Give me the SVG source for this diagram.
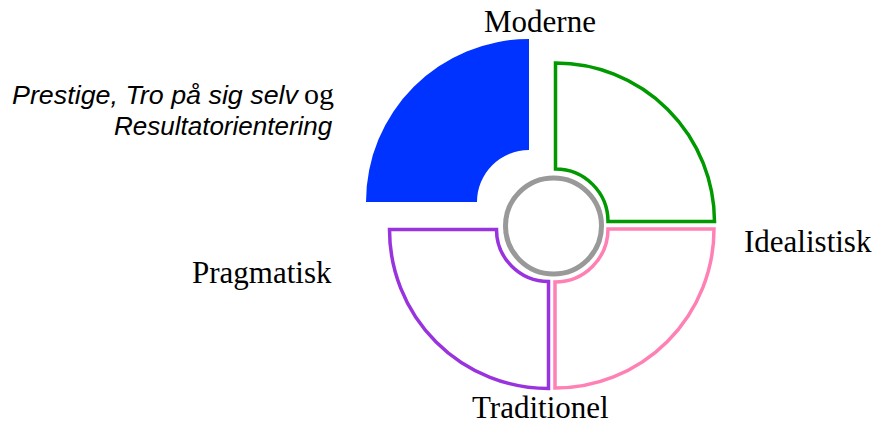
<svg xmlns="http://www.w3.org/2000/svg" width="877" height="425" viewBox="0 0 877 425">
<style>
.lbl{font-family:"Liberation Serif","Times New Roman",serif;font-size:31px;fill:#000}
.it{font-family:"Liberation Sans",Arial,sans-serif;font-size:26px;font-style:italic;fill:#000}
.og{font-family:"Liberation Serif","Times New Roman",serif;font-size:30px;fill:#000}
.seg{fill:#ffffff;stroke-width:3.5;stroke-linejoin:miter}
</style>
<rect width="877" height="425" fill="#ffffff"/>
<g id="moderne">
<path d="M529,39 L529,150 A52,52 0 0 0 477,202 L366,202 A163,163 0 0 1 529,39 Z" fill="#0033ff"/>
<text class="lbl" x="484" y="32">Moderne</text>
</g>
<g id="idealistisk">
<path class="seg" d="M555.5,63 L555.5,169 A52.5,52.5 0 0 1 608,221.5 L714.5,221.5 A159,159 0 0 0 555.5,63 Z" stroke="#009900"/>
<text class="lbl" x="744" y="252">Idealistisk</text>
</g>
<g id="traditionel">
<path class="seg" d="M608,229 L714,229 A159,159 0 0 1 555,388 L555,282 A53,53 0 0 0 608,229 Z" stroke="#ff80b4"/>
<text class="lbl" x="472" y="418">Traditionel</text>
</g>
<g id="pragmatisk">
<path class="seg" d="M496.5,229.5 L389.5,229.5 A159,159 0 0 0 548.5,388.5 L548.5,281.5 A52,52 0 0 1 496.5,229.5 Z" stroke="#9933dd"/>
<text class="lbl" x="192" y="283">Pragmatisk</text>
</g>
<g id="center">
<circle cx="553.5" cy="226" r="48" fill="none" stroke="#999999" stroke-width="5"/>
</g>
<g id="annotation">
<text class="it" x="12" y="104" textLength="286" lengthAdjust="spacingAndGlyphs">Prestige, Tro på sig selv</text>
<text class="og" x="304" y="104">og</text>
<text class="it" x="114" y="135">Resultatorientering</text>
</g>
<g id="connectors"></g>
</svg>
